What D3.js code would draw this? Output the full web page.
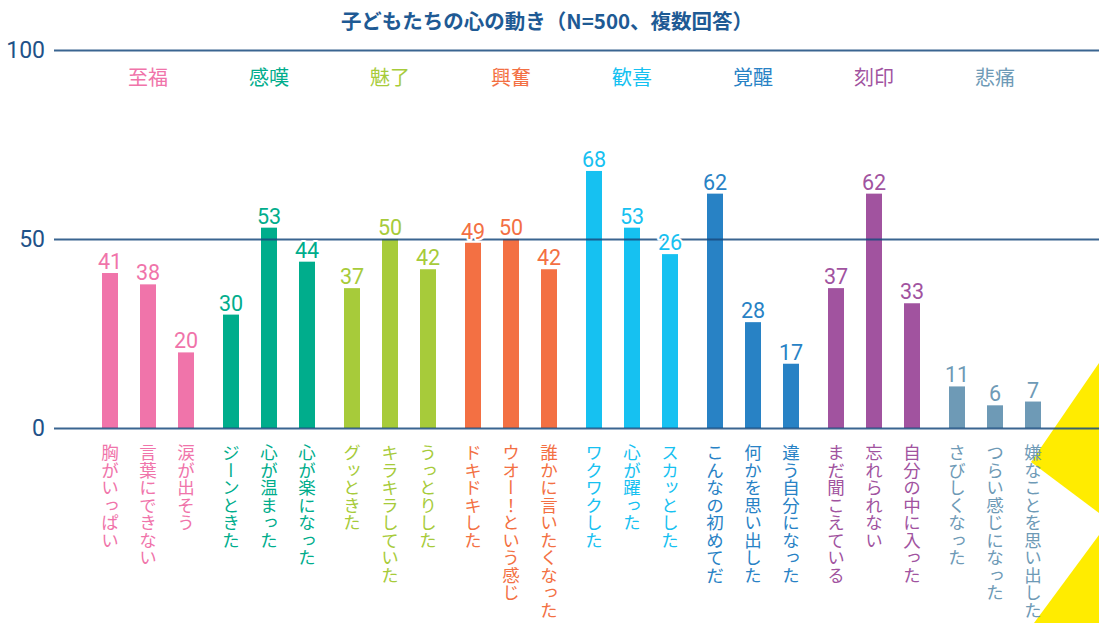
<!DOCTYPE html>
<html><head><meta charset="utf-8">
<script src="https://cdn.jsdelivr.net/npm/d3@7"></script>
<style>
html,body{margin:0;padding:0;background:#fff;}
svg{display:block;}
</style></head>
<body>
<svg id="chart" width="1099" height="623"></svg>
<script>
const title = "子どもたちの心の動き（N=500、複数回答）";
const categories = ["至福","感嘆","魅了","興奮","歓喜","覚醒","刻印","悲痛"];
const categoryColors = ["#f074aa","#00ad8c","#a7cb3a","#f37043","#16c1f1","#2882c5","#a1539f","#6e9ab6"];
const items = [
  "胸がいっぱい","言葉にできない","涙が出そう",
  "ジーンときた","心が温まった","心が楽になった",
  "グッときた","キラキラしていた","うっとりした",
  "ドキドキした","ウオー！という感じ","誰かに言いたくなった",
  "ワクワクした","心が躍った","スカッとした",
  "こんなの初めてだ","何かを思い出した","違う自分になった",
  "まだ聞こえている","忘れられない","自分の中に入った",
  "さびしくなった","つらい感じになった","嫌なことを思い出した"
];
const values = [41,38,20, 30,53,44, 37,50,42, 49,50,42, 68,53,46, 62,28,17, 37,62,33, 11,6,7];
const valueLabels = ["41","38","20","30","53","44","37","50","42","49","50","42","68","53","26","62","28","17","37","62","33","11","6","7"];
const yTicks = [0,50,100];

const svg = d3.select("#chart");
const W = 1099, H = 623;
const numFont = "Roboto, 'DejaVu Sans', sans-serif";
const jpFont = "'Noto Sans CJK JP', 'Noto Sans', sans-serif";
const axisX = 54;

const y = d3.scaleLinear().domain([0,100]).range([428,50]);

const xGroup = d3.scaleBand().domain(categories).range([88, 88 + 121*categories.length]).paddingInner(0).paddingOuter(0);
const xInner = d3.scaleBand().domain([0,1,2]).range([14, 106]).paddingInner(22/38).paddingOuter(0);

const data = items.map((name,i)=>{
  const g = Math.floor(i/3), j = i%3;
  return {name, value: values[i], label: valueLabels[i], g, j, color: categoryColors[g], cat: categories[g]};
});
function barX(d){ return xGroup(d.cat) + xInner(d.j); }
const bw = xInner.bandwidth();

// decorative yellow shapes
svg.append("polygon").attr("points","1099,363 1031,462 1099,513").attr("fill","#ffec00");
svg.append("polygon").attr("points","1099,535 1034,623 1099,623").attr("fill","#ffec00");

// title
svg.append("text").attr("x", 547).attr("y", 29).attr("text-anchor","middle")
  .attr("font-family", jpFont).attr("font-size", 20.5).attr("font-weight", 700)
  .attr("fill", "#1e5a94").text(title);

// bars
svg.append("g").selectAll("rect").data(data).join("rect")
  .attr("x", d=>barX(d)).attr("width", bw)
  .attr("y", d=>y(d.value)).attr("height", d=>y(0)-y(d.value))
  .attr("fill", d=>d.color);

// axis with gridlines
const axis = d3.axisLeft(y).tickValues(yTicks).tickSize(-(W-axisX)).tickPadding(9);
const ag = svg.append("g").attr("transform",`translate(${axisX},0)`).call(axis);
ag.select(".domain").remove();
ag.selectAll(".tick line").attr("stroke","#174a7e").attr("stroke-opacity",0.85).attr("stroke-width",2);
ag.selectAll(".tick text").attr("font-family", numFont).attr("font-size", 23).attr("fill","#1f5288").attr("font-weight",400);

// category labels
svg.append("g").selectAll("text").data(categories).join("text")
  .attr("x", c=> xGroup(c) + xInner(1) + bw/2)
  .attr("y", 85).attr("text-anchor","middle")
  .attr("font-family", jpFont).attr("font-size", 20)
  .attr("fill", (c,g)=>categoryColors[g]).text(c=>c);

// value labels
svg.append("g").selectAll("text").data(data).join("text")
  .attr("x", d=>barX(d)+bw/2).attr("y", d=>y(d.value)-4)
  .attr("text-anchor","middle")
  .attr("font-family", numFont).attr("font-size", 21.5)
  .attr("fill", d=>d.color)
  .attr("stroke","#fff").attr("stroke-width",4).attr("paint-order","stroke").attr("stroke-linejoin","round")
  .text(d=>d.label);

// vertical item labels
svg.append("g").selectAll("text").data(data).join("text")
  .attr("x", d=>barX(d)+bw/2).attr("y", 444)
  .attr("writing-mode","vertical-rl")
  .attr("font-family", jpFont).attr("font-size", 17.5)
  .attr("fill", d=>d.color)
  .text(d=>d.name);
</script>
</body></html>
